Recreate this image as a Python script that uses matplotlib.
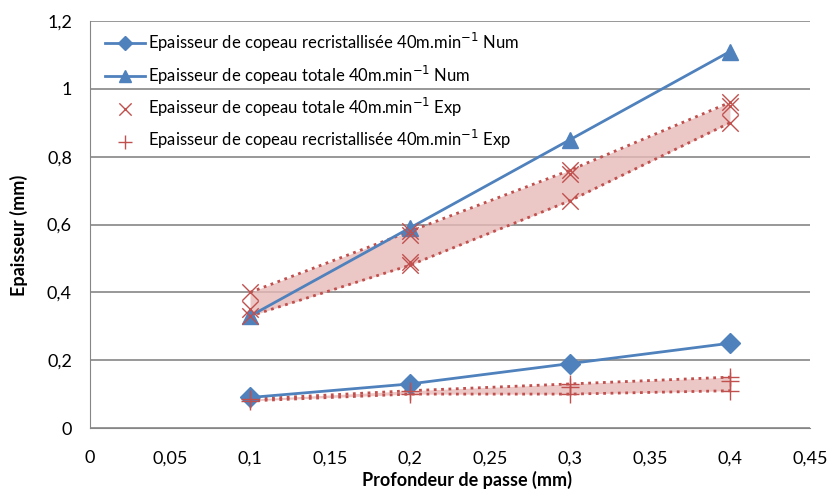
import numpy as np
import matplotlib
matplotlib.use("Agg")
import matplotlib.pyplot as plt
from matplotlib.ticker import FuncFormatter

plt.rcParams["font.family"] = ["Lato", "DejaVu Sans"]

# numerical results
depth = [0.1, 0.2, 0.3, 0.4]
num_recrist = [0.09, 0.13, 0.19, 0.25]
num_totale = [0.33, 0.59, 0.85, 1.11]

# experimental measurements (several per depth)
exp_tot_x = [0.1, 0.1, 0.1, 0.2, 0.2, 0.2, 0.2, 0.3, 0.3, 0.3, 0.4, 0.4, 0.4]
exp_tot_y = [0.40, 0.35, 0.33, 0.58, 0.57, 0.49, 0.48, 0.76, 0.75, 0.67, 0.96, 0.95, 0.90]
exp_rec_x = [0.1, 0.1, 0.2, 0.2, 0.3, 0.3, 0.3, 0.4, 0.4, 0.4]
exp_rec_y = [0.08, 0.085, 0.10, 0.11, 0.10, 0.12, 0.13, 0.11, 0.14, 0.15]

labels = [
    "Epaisseur de copeau recristallisée 40m.min$^{-1}$ Num",
    "Epaisseur de copeau totale 40m.min$^{-1}$ Num",
    "Epaisseur de copeau totale 40m.min$^{-1}$ Exp",
    "Epaisseur de copeau recristallisée 40m.min$^{-1}$ Exp",
]

blue = "#4F81BD"
red = "#C0504D"
band = "#E6B9B8"


def envelope(xs, ys):
    xs = np.array(xs)
    ys = np.array(ys)
    ux = np.unique(xs)
    lo = [ys[xs == u].min() for u in ux]
    hi = [ys[xs == u].max() for u in ux]
    return ux, np.array(lo), np.array(hi)


fig, ax = plt.subplots(figsize=(8.29, 4.93), dpi=100)
fig.subplots_adjust(left=0.1086, right=0.977, bottom=0.1318, top=0.9574)

for xs, ys in [(exp_tot_x, exp_tot_y), (exp_rec_x, exp_rec_y)]:
    ux, lo, hi = envelope(xs, ys)
    ax.fill_between(ux, lo, hi, color=band, alpha=0.8, lw=0, zorder=2)
    ax.plot(ux, lo, ls=":", color=red, lw=2, zorder=3)
    ax.plot(ux, hi, ls=":", color=red, lw=2, zorder=3)

h1, = ax.plot(depth, num_recrist, color=blue, lw=2, marker="D", ms=10,
              label=labels[0], zorder=4)
h2, = ax.plot(depth, num_totale, color=blue, lw=2, marker="^", ms=11,
              label=labels[1], zorder=4)
h3 = ax.scatter(exp_tot_x, exp_tot_y, marker="x", s=140, color=red, lw=1,
                label=labels[2], zorder=5)
h4 = ax.scatter(exp_rec_x, exp_rec_y, marker="+", s=180, color=red, lw=1,
                label=labels[3], zorder=5)

ax.set_xlim(0, 0.45)
ax.set_ylim(0, 1.2)
ax.set_xticks(np.arange(0, 0.451, 0.05))
ax.set_yticks(np.arange(0, 1.21, 0.2))

comma = FuncFormatter(lambda v, p: f"{v:.2f}".rstrip("0").rstrip(".").replace(".", ","))
ax.xaxis.set_major_formatter(comma)
ax.yaxis.set_major_formatter(comma)
ax.tick_params(labelsize=13, length=0)
ax.tick_params(axis="x", pad=16)
ax.tick_params(axis="y", pad=13)

ax.grid(axis="y", color="#868686", lw=1.2)
ax.set_axisbelow(True)
for s in ["top", "right"]:
    ax.spines[s].set_visible(False)
for s in ["left", "bottom"]:
    ax.spines[s].set_color("#868686")

ax.set_xlabel("Profondeur de passe (mm)", fontsize=13, fontweight="bold", labelpad=3)
ax.set_ylabel("Epaisseur (mm)", fontsize=13, fontweight="bold", labelpad=14)
ax.xaxis.label.set_x(0.524)
ax.yaxis.label.set_y(0.474)

ax.legend(handles=[h1, h2, h3, h4], loc="upper left",
          bbox_to_anchor=(0.021, 0.975), frameon=False, fontsize=12,
          handlelength=2.4, labelspacing=0.55, handletextpad=0.2,
          borderpad=0, borderaxespad=0, markerscale=0.75)

fig.savefig("out.png", dpi=100)
